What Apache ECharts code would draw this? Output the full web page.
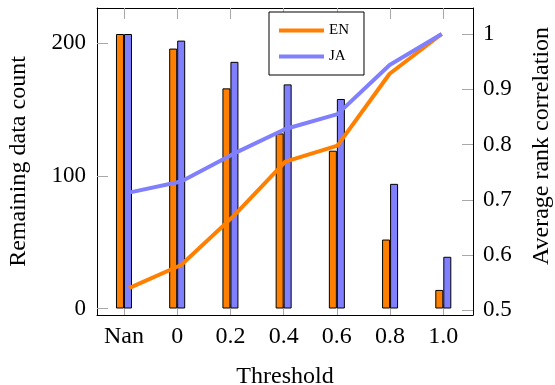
<!DOCTYPE html>
<html><head><meta charset="utf-8">
<script src="https://cdn.jsdelivr.net/npm/echarts@6/dist/echarts.min.js"></script>
<style>html,body{margin:0;padding:0;background:#fff}#c{width:555px;height:385px}</style>
</head><body><div id="c"></div>
<script>
const categories = ['Nan', '0', '0.2', '0.4', '0.6', '0.8', '1.0'];
const countEN = [207, 196, 166, 132, 119, 52, 14];
const countJA = [207, 202, 186, 169, 158, 94, 39];
const corrEN = [0.540, 0.582, 0.670, 0.769, 0.798, 0.928, 1.0];
const corrJA = [0.713, 0.733, 0.783, 0.828, 0.855, 0.944, 1.0];
const countTicks = [0, 100, 200];
const corrTicks = [0.5, 0.6, 0.7, 0.8, 0.9, 1.0];
const catIdx = categories.map((c, i) => i);

const FONT = 'Liberation Serif';
const ORANGE = '#ff7f00';
const BLUE = '#8080ff';
const TICKC = '#a8a8a8';

const chart = echarts.init(document.getElementById('c'), null, {renderer: 'canvas'});
const catFmt = v => categories[Math.round(v)] ?? '';
chart.setOption({
  animation: false,
  backgroundColor: '#fff',
  textStyle: {fontFamily: FONT},
  grid: {left: 97, right: 82, top: 8, bottom: 70, containLabel: false, outerBoundsMode: 'none'},
  legend: {
    data: ['EN', 'JA'],
    orient: 'vertical',
    left: 269, top: 12,
    padding: [11, 15, 11, 10],
    icon: 'rect',
    itemWidth: 45, itemHeight: 4, itemGap: 11,
    borderColor: '#000', borderWidth: 1, borderRadius: 0,
    backgroundColor: '#fff',
    textStyle: {fontFamily: FONT, fontSize: 15, color: '#000', lineHeight: 14}
  },
  xAxis: [
    {
      type: 'value', position: 'bottom', min: -0.507, max: 6.558,
      axisLine: {show: true, onZero: false, lineStyle: {color: '#000', width: 1}},
      axisTick: {show: true, inside: true, length: 11, customValues: catIdx, lineStyle: {color: TICKC}},
      axisLabel: {customValues: catIdx, formatter: catFmt, fontFamily: FONT, fontSize: 24, color: '#000', margin: 10},
      splitLine: {show: false},
      name: 'Threshold', nameLocation: 'middle', nameGap: 50,
      nameTextStyle: {fontFamily: FONT, fontSize: 24, color: '#000'}
    },
    {
      type: 'value', position: 'top', min: -0.507, max: 6.558,
      axisLine: {show: true, onZero: false, lineStyle: {color: '#000', width: 1}},
      axisTick: {show: true, inside: true, length: 11, customValues: catIdx, lineStyle: {color: TICKC}},
      axisLabel: {show: false},
      splitLine: {show: false}
    },
    {
      type: 'value', min: -0.614, max: 6.60, show: false,
      splitLine: {show: false}
    }
  ],
  yAxis: [
    {
      type: 'value', position: 'left', min: -4.9, max: 226.6,
      axisLine: {show: true, onZero: false, lineStyle: {color: '#000', width: 1}},
      axisTick: {show: true, inside: true, length: 11, customValues: countTicks, lineStyle: {color: TICKC}},
      axisLabel: {customValues: countTicks, fontFamily: FONT, fontSize: 23, color: '#000', margin: 11},
      splitLine: {show: false},
      name: 'Remaining data count', nameLocation: 'middle', nameGap: 66, nameRotate: 90,
      nameTextStyle: {fontFamily: FONT, fontSize: 24, color: '#000'}
    },
    {
      type: 'value', position: 'right', min: 0.4915, max: 1.047,
      axisLine: {show: true, onZero: false, lineStyle: {color: '#000', width: 1}},
      axisTick: {show: true, inside: true, length: 11, customValues: corrTicks, lineStyle: {color: TICKC}},
      axisLabel: {customValues: corrTicks, formatter: v => (Math.abs(v - 1) < 1e-9 ? '1' : v.toFixed(1)),
        fontFamily: FONT, fontSize: 23, color: '#000', margin: 10},
      splitLine: {show: false}
    }
  ],
  graphic: [{
    type: 'text', x: 542, y: 146, rotation: Math.PI / 2,
    style: {text: 'Average rank correlation', fontFamily: FONT, fontSize: 24, fill: '#000',
      align: 'center', verticalAlign: 'middle'}
  }],
  series: [
    {
      name: 'EN count', type: 'bar', xAxisIndex: 0, yAxisIndex: 0,
      data: countEN.map((v, i) => [i, v]), barWidth: 8, barGap: '0%',
      itemStyle: {color: ORANGE, borderColor: '#000', borderWidth: 1}, z: 2
    },
    {
      name: 'JA count', type: 'bar', xAxisIndex: 0, yAxisIndex: 0,
      data: countJA.map((v, i) => [i, v]), barWidth: 8, barGap: '0%',
      itemStyle: {color: BLUE, borderColor: '#000', borderWidth: 1}, z: 2
    },
    {
      name: 'EN', type: 'line', xAxisIndex: 2, yAxisIndex: 1,
      data: corrEN.map((v, i) => [i, v]), symbol: 'none', showSymbol: false,
      lineStyle: {color: ORANGE, width: 4, join: 'round'}, itemStyle: {color: ORANGE}, z: 5
    },
    {
      name: 'JA', type: 'line', xAxisIndex: 2, yAxisIndex: 1,
      data: corrJA.map((v, i) => [i, v]), symbol: 'none', showSymbol: false,
      lineStyle: {color: BLUE, width: 4, join: 'round'}, itemStyle: {color: BLUE}, z: 5
    }
  ]
});
</script></body></html>
